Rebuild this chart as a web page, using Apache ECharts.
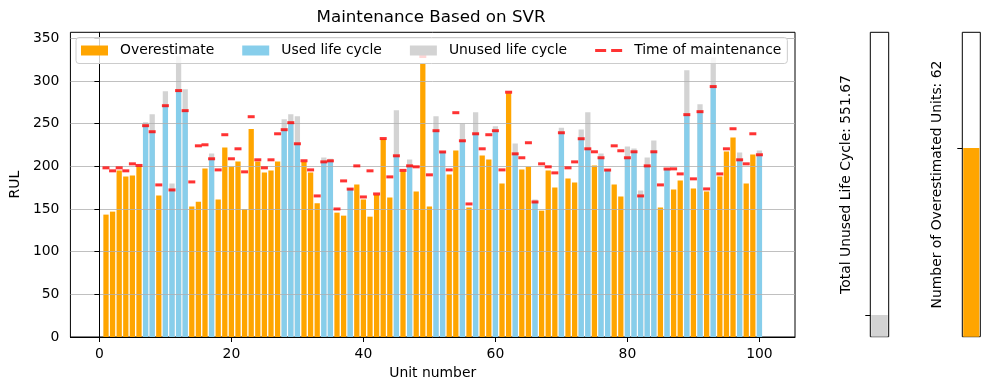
<!DOCTYPE html>
<html><head><meta charset="utf-8">
<script src="https://cdn.jsdelivr.net/npm/echarts@6/dist/echarts.min.js"></script>
<style>html,body{margin:0;padding:0;background:#fff}#c{width:989px;height:390px}</style>
</head><body><div id="c"></div>
<script>
const units = [1,2,3,4,5,6,7,8,9,10,11,12,13,14,15,16,17,18,19,20,21,22,23,24,25,26,27,28,29,30,31,32,33,34,35,36,37,38,39,40,41,42,43,44,45,46,47,48,49,50,51,52,53,54,55,56,57,58,59,60,61,62,63,64,65,66,67,68,69,70,71,72,73,74,75,76,77,78,79,80,81,82,83,84,85,86,87,88,89,90,91,92,93,94,95,96,97,98,99,100];
const trueRUL = [143.4,146.9,195,188,189.2,199.5,251.5,260.9,165.7,287.9,
179.8,329,290.2,152.8,158.6,197.4,215,161,222,199.8,
205.6,150,243.6,205.6,192.7,195,205.6,255,260.9,258.5,
205,192.7,156.7,210.3,208.8,145.7,142.2,174,178.6,161,
141,166.5,231.5,163.3,265.6,194,208,170.4,320.4,152.8,
258.5,217.5,190.4,218.6,249.9,151.6,263.2,212.7,208,246.8,
179.8,285.5,226.8,196.2,199.4,161,148,195,175.1,245.2,
185.7,181,243.2,263.2,200.9,215,196.2,178.6,164.5,223.3,
220.9,171.6,210.3,230.3,151.6,197.5,172.7,183.3,312.6,173.9,
272.6,170.4,327.5,188,217.4,233.8,216.2,179.8,213.9,218.6];
const maintTime = [198.2,194.7,198.2,194.7,202.9,201,247.6,240.5,178.2,271,
172.3,288.7,265.2,181.7,224,225.2,208.8,195.8,237,208.8,
220.5,193.5,258.1,207.6,198.2,207.6,238.1,242.9,251.1,226.4,
206.5,195.8,165.3,205.2,206.4,150,182.9,173.3,200.5,164.1,
194.7,167.6,232.5,187.6,212.3,195.2,200.5,199.4,328.6,190,
241.7,216.8,195.8,262.8,229.9,155.9,238.1,220.5,237,241.7,
195.8,286.8,214.6,210,227.6,158.2,202.9,199.4,192.3,239.3,
198.2,205.2,232.3,220.5,217,210,195.6,224,218.2,210,
217,165.3,200.5,217,178.2,196.8,197,191.1,260.5,185.3,
264,173.5,293.4,191.1,220.5,244,207.6,202.9,238.1,213.5];
const xTicks = [0,20,40,60,80,100];
const yTicks = [0,50,100,150,200,250,300,350];
const totalUnused = 551.67;
const overCount = 62;
const totalUnusedAxisMax = 7740;
const overCountAxisMax = 100;

// Overestimated units: orange bar up to the true RUL.
// Other units: blue used part up to maintenance time, grey unused part from there to the true RUL
// (the grey bar is drawn full height behind the blue one, so only the unused part shows).
const over = [], used = [], unusedTop = [], marks = [];
units.forEach((u, i) => {
  const t = trueRUL[i], p = maintTime[i];
  if (p > t) { over.push([u, t]); used.push([u, '-']); unusedTop.push([u, '-']); }
  else { over.push([u, '-']); used.push([u, p]); unusedTop.push([u, t]); }
  marks.push([u, p]);
});

const font = 'DejaVu Sans';
const fs = 13.9;
const black = '#000';
const chart = echarts.init(document.getElementById('c'), null, {renderer: 'canvas'});
const panelY = (gi, max, val, name, gap) => ({
  gridIndex: gi, type: 'value', min: 0, max: max,
  axisLine: {show: false},
  axisTick: {show: true, customValues: [val], length: 5, lineStyle: {color: black}},
  axisLabel: {show: false}, splitLine: {show: false},
  name: name, nameLocation: 'middle', nameGap: gap,
  nameTextStyle: {fontSize: fs, color: black, fontFamily: font}
});
chart.setOption({
  animation: false,
  textStyle: {fontFamily: font},
  title: {
    text: 'Maintenance Based on SVR', left: 431, top: 9, textAlign: 'center', padding: 0,
    textStyle: {fontSize: 16.7, fontWeight: 'normal', color: black, fontFamily: font}
  },
  legend: {
    left: 76, top: 37.5, z: 6,
    data: [
      {name: 'Overestimate', icon: 'rect'},
      {name: 'Used life cycle', icon: 'rect'},
      {name: 'Unused life cycle', icon: 'rect'},
      {name: 'Time of maintenance', icon: 'path://M0,0L0,0M27,10L27,10M0,3.5H11V6.5H0ZM16,3.5H27V6.5H16Z'}
    ],
    itemWidth: 27, itemHeight: 10, itemGap: 28,
    padding: [6, 6, 6, 5],
    backgroundColor: 'rgba(255,255,255,0.8)', borderColor: '#cccccc', borderWidth: 1, borderRadius: 3,
    textStyle: {fontSize: fs, color: black, fontFamily: font, padding: [0, 0, 0, 7]}
  },
  grid: [
    {left: 66.7, top: 32.3, width: 728.3, height: 304.7, show: true, borderColor: black, borderWidth: 1, backgroundColor: 'transparent'},
    {left: 870.3, top: 32.3, width: 18.4, height: 304.4, show: true, borderColor: black, borderWidth: 1, backgroundColor: 'transparent'},
    {left: 962.3, top: 32.3, width: 18, height: 304.4, show: true, borderColor: black, borderWidth: 1, backgroundColor: 'transparent'}
  ],
  xAxis: [
    {gridIndex: 0, type: 'value', min: -4.39, max: 105.39, z: 3,
     axisLine: {show: true, lineStyle: {color: black, width: 1}},
     axisTick: {show: true, customValues: xTicks, length: 5, lineStyle: {color: black}},
     axisLabel: {customValues: xTicks, margin: 10, fontSize: fs, color: black, fontFamily: font},
     splitLine: {show: false},
     name: 'Unit number', nameLocation: 'middle', nameGap: 28,
     nameTextStyle: {fontSize: fs, color: black, fontFamily: font}},
    {gridIndex: 1, type: 'category', data: ['unused'], show: false},
    {gridIndex: 2, type: 'category', data: ['over'], show: false}
  ],
  yAxis: [
    {gridIndex: 0, type: 'value', min: 0, max: 357, z: 2,
     axisLine: {show: true, lineStyle: {color: black, width: 1}},
     axisTick: {show: true, customValues: yTicks, length: 5, lineStyle: {color: black}},
     axisLabel: {customValues: yTicks, margin: 11, fontSize: fs, color: black, fontFamily: font},
     splitLine: {show: true, lineStyle: {color: '#b0b0b0', width: 0.8}},
     name: 'RUL', nameLocation: 'middle', nameGap: 43,
     nameTextStyle: {fontSize: fs, color: black, fontFamily: font}},
    panelY(1, totalUnusedAxisMax, totalUnused, 'Total Unused Life Cycle: ' + totalUnused, 17),
    panelY(2, overCountAxisMax, overCount, 'Number of Overestimated Units: ' + overCount, 18)
  ],
  series: [
    {name: 'Overestimate', type: 'bar', data: over, barWidth: '80%', barGap: '-100%', z: 1,
     itemStyle: {color: '#FFA500'}},
    {name: 'Unused life cycle', type: 'bar', data: unusedTop, barWidth: '80%', barGap: '-100%', z: 1,
     itemStyle: {color: '#D3D3D3'}},
    {name: 'Used life cycle', type: 'bar', data: used, barWidth: '80%', barGap: '-100%', z: 1,
     itemStyle: {color: '#87CEEB'}},
    {name: 'Time of maintenance', type: 'scatter', data: marks, symbol: 'rect', symbolSize: [7, 3], z: 3,
     itemStyle: {color: '#FF0000'}},
    {name: 'Total unused', type: 'bar', xAxisIndex: 1, yAxisIndex: 1, data: [totalUnused], barWidth: '90%',
     itemStyle: {color: '#D3D3D3'}},
    {name: 'Overestimated count', type: 'bar', xAxisIndex: 2, yAxisIndex: 2, data: [overCount], barWidth: '90%',
     itemStyle: {color: '#FFA500'}}
  ]
});
</script></body></html>
